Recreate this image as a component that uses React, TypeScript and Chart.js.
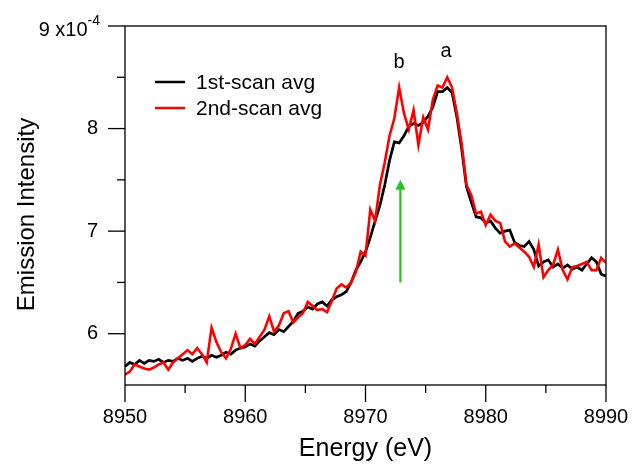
import React, { useEffect, useRef } from "react";
import { Chart, registerables } from "chart.js";

Chart.register(...registerables);

// Energy grid (eV): start and step of the sampled spectrum
const E_START = 8950;
const E_STEP = 0.4;

// Emission intensity in units of 1e-4, one value per 0.4 eV from 8950 to 8990
const SCAN1_AVG = [
  5.68, 5.72, 5.70, 5.74, 5.71, 5.74, 5.73, 5.75, 5.72, 5.74,
  5.73, 5.76, 5.74, 5.76, 5.73, 5.76, 5.78, 5.76, 5.79, 5.77,
  5.79, 5.82, 5.80, 5.84, 5.86, 5.87, 5.90, 5.88, 5.93, 5.97,
  6.01, 5.99, 6.04, 6.02, 6.07, 6.12, 6.20, 6.22, 6.26, 6.24,
  6.29, 6.31, 6.27, 6.33, 6.36, 6.38, 6.41, 6.50, 6.62, 6.70,
  6.80, 6.94, 7.10, 7.25, 7.45, 7.69, 7.87, 7.86, 7.93, 8.02,
  8.05, 8.03, 8.06, 8.12, 8.21, 8.36, 8.36, 8.40, 8.35, 8.11,
  7.80, 7.43, 7.28, 7.14, 7.13, 7.08, 7.10, 7.03, 6.98, 7.00,
  7.01, 6.89, 6.86, 6.85, 6.90, 6.82, 6.66, 6.70, 6.72, 6.65,
  6.68, 6.64, 6.67, 6.63, 6.65, 6.62, 6.68, 6.74, 6.70, 6.58,
  6.56,
];

const SCAN2_AVG = [
  5.60, 5.63, 5.70, 5.68, 5.66, 5.65, 5.67, 5.70, 5.72, 5.65,
  5.72, 5.76, 5.80, 5.84, 5.80, 5.86, 5.80, 5.72, 6.06, 5.92,
  5.82, 5.76, 5.85, 6.00, 5.86, 5.89, 5.95, 5.90, 5.97, 6.04,
  6.17, 6.02, 6.08, 6.20, 6.22, 6.11, 6.16, 6.20, 6.31, 6.27,
  6.23, 6.24, 6.21, 6.32, 6.44, 6.48, 6.45, 6.50, 6.60, 6.80,
  6.76, 7.21, 7.10, 7.45, 7.67, 7.93, 8.10, 8.40, 8.15, 7.99,
  8.18, 7.84, 8.11, 7.99, 8.28, 8.42, 8.40, 8.50, 8.40, 8.15,
  7.85, 7.45, 7.35, 7.17, 7.19, 7.06, 7.16, 7.10, 7.08, 6.90,
  6.85, 6.88, 6.84, 6.80, 6.75, 6.65, 6.87, 6.55, 6.62, 6.67,
  6.82, 6.62, 6.53, 6.65, 6.66, 6.68, 6.70, 6.62, 6.62, 6.74,
  6.69,
];

const SERIES_NAMES = ["1st-scan avg", "2nd-scan avg"];
const SERIES_COLORS = ["#000000", "#ff0000"];

const X_MIN = 8950;
const X_MAX = 8990;
const X_MAJOR_TICKS = [8950, 8960, 8970, 8980, 8990];
const X_MINOR_TICKS = [8955, 8965, 8975, 8985];
const Y_MIN = 5.5;
const Y_MAX = 9;
const Y_MAJOR_TICKS = [6, 7, 8, 9];
const Y_MINOR_TICKS = [6.5, 7.5, 8.5];
const Y_TOP_LABEL = "9 x10";
const Y_TOP_EXP = "-4";
const Y_TITLE = "Emission Intensity";
const X_TITLE = "Energy (eV)";

// peak labels and arrow (data coordinates)
const PEAK_LABELS = ["b", "a"];
const PEAK_E = [8972.8, 8976.7];
const PEAK_Y = [8.64, 8.75];
const ARROW_E = 8972.9;
const ARROW_FROM = 6.5;
const ARROW_TO = 7.5;

const FONT = "'Liberation Sans', Arial, Helvetica, sans-serif";

const ENERGY = SCAN1_AVG.map((_, i) => +(E_START + i * E_STEP).toFixed(2));

const decorPlugin = {
  id: "decor",
  afterDraw(chart: any) {
    const { ctx, chartArea: a, scales } = chart;
    const x = scales.x;
    const y = scales.y;
    ctx.save();
    ctx.strokeStyle = "#000";
    ctx.lineWidth = 1.3;
    ctx.strokeRect(a.left, a.top, a.right - a.left, a.bottom - a.top);
    const seg = (x1: number, y1: number, x2: number, y2: number) => {
      ctx.beginPath();
      ctx.moveTo(x1, y1);
      ctx.lineTo(x2, y2);
      ctx.stroke();
    };
    Y_MAJOR_TICKS.forEach((v) => {
      const py = y.getPixelForValue(v);
      seg(a.left - 17, py, a.left, py);
    });
    Y_MINOR_TICKS.forEach((v) => {
      const py = y.getPixelForValue(v);
      seg(a.left - 8, py, a.left, py);
    });
    X_MAJOR_TICKS.forEach((v) => {
      const px = x.getPixelForValue(v);
      seg(px, a.bottom, px, a.bottom + 17);
    });
    X_MINOR_TICKS.forEach((v) => {
      const px = x.getPixelForValue(v);
      seg(px, a.bottom, px, a.bottom + 8);
    });

    // top y label with exponent
    ctx.fillStyle = "#000";
    const py9 = y.getPixelForValue(9);
    ctx.font = `14px ${FONT}`;
    const expW = ctx.measureText(Y_TOP_EXP).width;
    const rightEdge = a.left - 25;
    ctx.textBaseline = "middle";
    ctx.textAlign = "left";
    ctx.fillText(Y_TOP_EXP, rightEdge - expW, py9 - 5);
    ctx.font = `20px ${FONT}`;
    ctx.textAlign = "right";
    ctx.fillText(Y_TOP_LABEL, rightEdge - expW, py9 + 4);

    // y axis title
    ctx.save();
    ctx.translate(27, (a.top + a.bottom) / 2 + 9);
    ctx.rotate(-Math.PI / 2);
    ctx.font = `24px ${FONT}`;
    ctx.textAlign = "center";
    ctx.textBaseline = "middle";
    ctx.fillText(Y_TITLE, 0, 0);
    ctx.restore();

    // legend
    ctx.font = `21px ${FONT}`;
    ctx.textAlign = "left";
    ctx.textBaseline = "middle";
    SERIES_NAMES.forEach((name, i) => {
      const ly = 82 + i * 26;
      ctx.strokeStyle = SERIES_COLORS[i];
      ctx.lineWidth = 2.5;
      seg(a.left + 30, ly, a.left + 60, ly);
      ctx.fillStyle = "#000";
      ctx.fillText(name, a.left + 71, ly + 1);
    });

    // peak labels
    ctx.font = `20px ${FONT}`;
    ctx.textAlign = "center";
    ctx.fillStyle = "#000";
    PEAK_LABELS.forEach((t, i) => {
      ctx.fillText(t, x.getPixelForValue(PEAK_E[i]), y.getPixelForValue(PEAK_Y[i]));
    });

    // green arrow
    const ax = x.getPixelForValue(ARROW_E);
    const ay1 = y.getPixelForValue(ARROW_FROM);
    const ay2 = y.getPixelForValue(ARROW_TO);
    ctx.strokeStyle = "#1ec81e";
    ctx.fillStyle = "#1ec81e";
    ctx.lineWidth = 2.2;
    seg(ax, ay1, ax, ay2 + 8);
    ctx.beginPath();
    ctx.moveTo(ax, ay2);
    ctx.lineTo(ax - 5, ay2 + 10);
    ctx.lineTo(ax + 5, ay2 + 10);
    ctx.closePath();
    ctx.fill();
    ctx.restore();
  },
};

export default function App() {
  const ref = useRef<HTMLCanvasElement | null>(null);
  useEffect(() => {
    if (!ref.current) return;
    const mk = (vals: number[]) => vals.map((v, i) => ({ x: ENERGY[i], y: v }));
    const chart = new Chart(ref.current, {
      type: "line",
      data: {
        datasets: [
          {
            label: SERIES_NAMES[0],
            data: mk(SCAN1_AVG),
            borderColor: SERIES_COLORS[0],
            borderWidth: 2.7,
            pointRadius: 0,
            tension: 0,
            order: 1,
          },
          {
            label: SERIES_NAMES[1],
            data: mk(SCAN2_AVG),
            borderColor: SERIES_COLORS[1],
            borderWidth: 2.6,
            pointRadius: 0,
            tension: 0,
            order: 0,
          },
        ],
      },
      options: {
        animation: false,
        responsive: false,
        devicePixelRatio: 1,
        layout: { padding: { left: 0, right: 28, top: 26, bottom: 0 } },
        plugins: { legend: { display: false }, tooltip: { enabled: false } },
        scales: {
          x: {
            type: "linear",
            min: X_MIN,
            max: X_MAX,
            afterFit: (s: any) => {
              s.height = 85;
              s.paddingLeft = 0;
              s.paddingRight = 0;
            },
            grid: { display: false, drawTicks: false },
            border: { display: false },
            ticks: {
              stepSize: 10,
              padding: 20,
              color: "#000",
              font: { family: FONT, size: 20 },
              maxRotation: 0,
              callback: (v: any) => (X_MAJOR_TICKS.includes(Number(v)) ? String(v) : ""),
            },
            title: {
              display: true,
              text: X_TITLE,
              color: "#000",
              font: { family: FONT, size: 25 },
              padding: { top: 0, bottom: 6 },
            },
          },
          y: {
            type: "linear",
            min: Y_MIN,
            max: Y_MAX,
            afterFit: (s: any) => {
              s.width = 125;
              s.paddingTop = 0;
              s.paddingBottom = 0;
            },
            grid: { display: false, drawTicks: false },
            border: { display: false },
            ticks: {
              stepSize: 1,
              padding: 27,
              color: "#000",
              font: { family: FONT, size: 20 },
              callback: (v: any) => {
                const n = Number(v);
                return Y_MAJOR_TICKS.includes(n) && n !== Y_MAX ? String(n) : "";
              },
            },
            title: { display: false },
          },
        },
      },
      plugins: [decorPlugin],
    });
    return () => chart.destroy();
  }, []);
  return (
    <div style={{ position: "fixed", left: 0, top: 0, width: 634, height: 470, background: "#fff" }}>
      <canvas ref={ref} width={634} height={470} style={{ width: 634, height: 470 }} />
    </div>
  );
}
